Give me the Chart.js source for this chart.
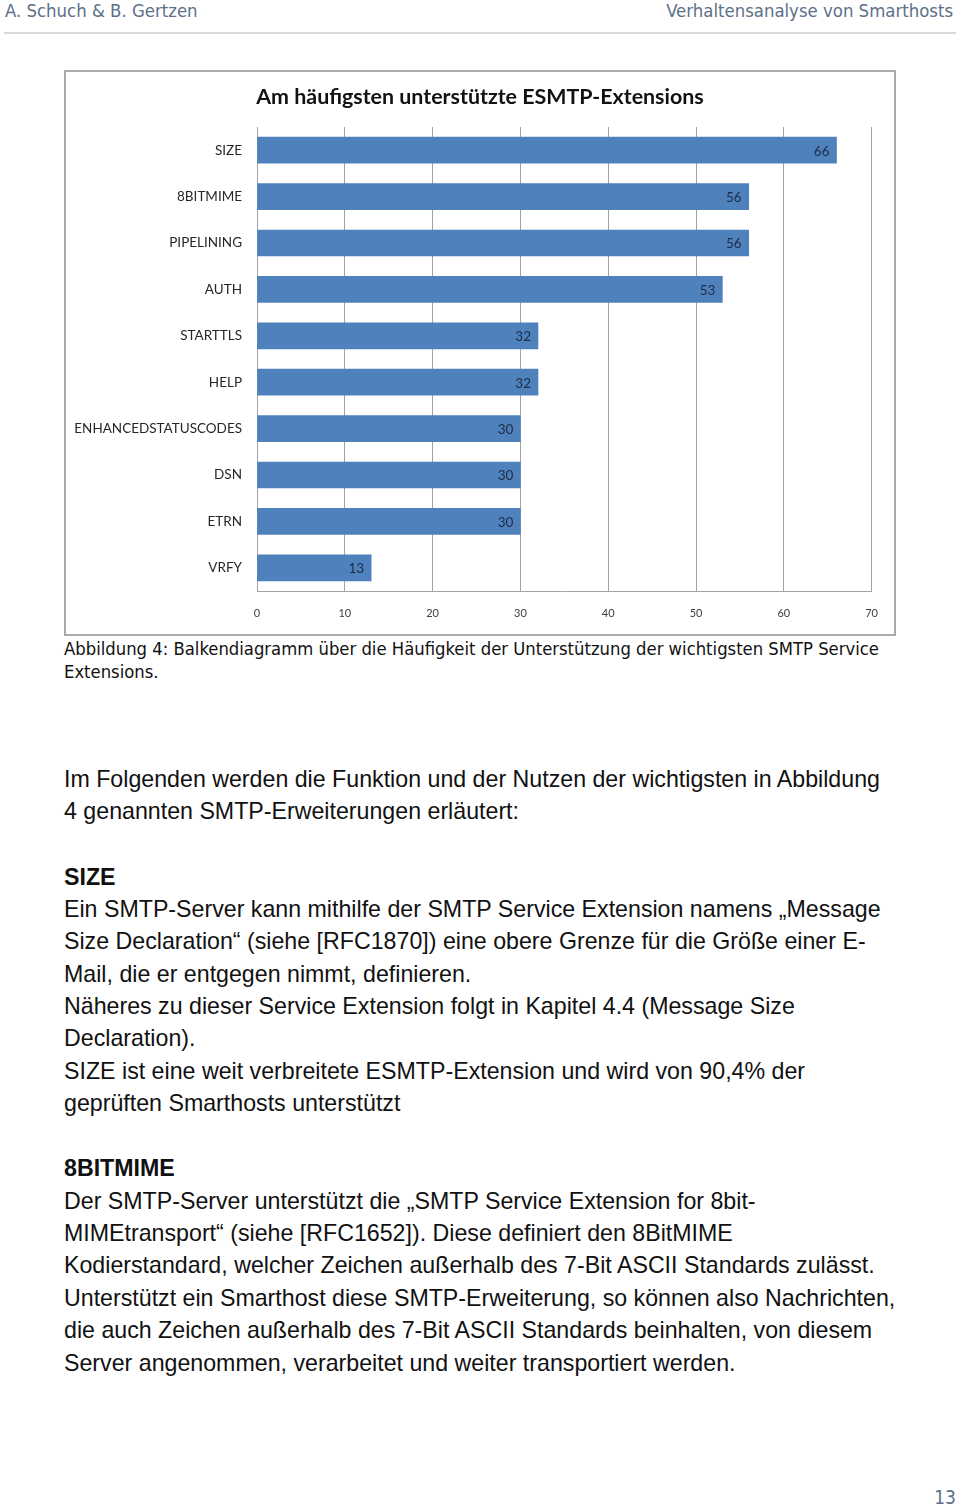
<!DOCTYPE html>
<html>
<head>
<meta charset="utf-8">
<script src="https://cdn.jsdelivr.net/npm/chart.js@4.4.1/dist/chart.umd.min.js"></script>
<style>
  body { margin: 0; width: 960px; height: 1508px; background: #fff; position: relative; overflow: hidden; }
  .hdr { position: absolute; top: 0; font-family: "DejaVu Sans Condensed", "DejaVu Sans"; font-size: 18.4px; color: #5c7089; line-height: 22px; }
  .rule { position: absolute; left: 4px; top: 32px; width: 952px; height: 2px; background: #d5dadd; }
  #box { position: absolute; left: 64px; top: 70px; width: 828px; height: 562px; border: 2px solid #ababab; }
  #title { position: absolute; left: 0; top: 11px; width: 828px; text-align: center; font-family: Lato, "Open Sans", sans-serif; font-weight: bold; font-size: 21.4px; line-height: 26px; color: #111; }
  #chart { position: absolute; left: 0; top: 0; }
  .cap { position: absolute; left: 64px; font-family: "DejaVu Sans Condensed", "DejaVu Sans"; font-size: 18.3px; color: #111; line-height: 22px; white-space: nowrap; }
  .ln { position: absolute; left: 64px; font-family: "Liberation Sans", Arial, sans-serif; font-size: 23.2px; color: #111; line-height: 32px; white-space: nowrap; }
  .b { font-weight: bold; }
  .pg { position: absolute; right: 4px; top: 1486px; font-family: "DejaVu Sans Condensed", "DejaVu Sans"; font-size: 19px; color: #5c7089; }
</style>
</head>
<body>
<div class="hdr" style="left:5px">A. Schuch &amp; B. Gertzen</div>
<div class="hdr" style="right:7px">Verhaltensanalyse von Smarthosts</div>
<div class="rule"></div>

<div id="box">
  <canvas id="chart" width="828" height="562"></canvas>
  <div id="title">Am häufigsten unterstützte ESMTP-Extensions</div>
</div>

<div class="cap" style="top:638px">Abbildung 4: Balkendiagramm über die Häufigkeit der Unterstützung der wichtigsten SMTP Service</div>
<div class="cap" style="top:661px">Extensions.</div>

<div class="ln" style="top:763px">Im Folgenden werden die Funktion und der Nutzen der wichtigsten in Abbildung</div>
<div class="ln" style="top:795px">4 genannten SMTP-Erweiterungen erläutert:</div>
<div class="ln b" style="top:861px">SIZE</div>
<div class="ln" style="top:893px">Ein SMTP-Server kann mithilfe der SMTP Service Extension namens „Message</div>
<div class="ln" style="top:925px">Size Declaration“ (siehe [RFC1870]) eine obere Grenze für die Größe einer E-</div>
<div class="ln" style="top:958px">Mail, die er entgegen nimmt, definieren.</div>
<div class="ln" style="top:990px">Näheres zu dieser Service Extension folgt in Kapitel 4.4 (Message Size</div>
<div class="ln" style="top:1022px">Declaration).</div>
<div class="ln" style="top:1055px">SIZE ist eine weit verbreitete ESMTP-Extension und wird von 90,4% der</div>
<div class="ln" style="top:1087px">geprüften Smarthosts unterstützt</div>
<div class="ln b" style="top:1152px">8BITMIME</div>
<div class="ln" style="top:1185px">Der SMTP-Server unterstützt die „SMTP Service Extension for 8bit-</div>
<div class="ln" style="top:1217px">MIMEtransport“ (siehe [RFC1652]). Diese definiert den 8BitMIME</div>
<div class="ln" style="top:1249px">Kodierstandard, welcher Zeichen außerhalb des 7-Bit ASCII Standards zulässt.</div>
<div class="ln" style="top:1282px">Unterstützt ein Smarthost diese SMTP-Erweiterung, so können also Nachrichten,</div>
<div class="ln" style="top:1314px">die auch Zeichen außerhalb des 7-Bit ASCII Standards beinhalten, von diesem</div>
<div class="ln" style="top:1347px">Server angenommen, verarbeitet und weiter transportiert werden.</div>

<div class="pg">13</div>

<script>
// Extensions and how many smarthosts support them
const extensions = ["SIZE", "8BITMIME", "PIPELINING", "AUTH", "STARTTLS", "HELP",
  "ENHANCEDSTATUSCODES", "DSN", "ETRN", "VRFY"];
const supportCounts = [66, 56, 56, 53, 32, 32, 30, 30, 30, 13];
const xTicks = [0, 10, 20, 30, 40, 50, 60, 70];

const chartFont = "Lato, 'Open Sans', sans-serif";

// value labels inside the end of each bar
const barLabels = {
  id: "barLabels",
  afterDatasetsDraw(chart) {
    const ctx = chart.ctx;
    const meta = chart.getDatasetMeta(0);
    ctx.save();
    ctx.font = "13.5px " + chartFont;
    ctx.fillStyle = "#1d2b48";
    ctx.textAlign = "right";
    ctx.textBaseline = "middle";
    meta.data.forEach((bar, i) => {
      ctx.fillText(String(supportCounts[i]), bar.x - 7, bar.y + 1);
    });
    ctx.restore();
  },
};

new Chart(document.getElementById("chart"), {
  type: "bar",
  data: {
    labels: extensions,
    datasets: [{
      data: supportCounts,
      backgroundColor: "#4f81bd",
      barThickness: 26,
    }],
  },
  options: {
    indexAxis: "y",
    responsive: false,
    animation: false,
    // title is an html line above, so leave room at the top
    layout: { padding: { left: 0, right: 21, top: 55, bottom: 0 } },
    plugins: {
      legend: { display: false },
      tooltip: { enabled: false },
      title: { display: false },
    },
    scales: {
      x: {
        min: 0,
        max: 70,
        afterBuildTicks: (scale) => { scale.ticks = xTicks.map((v) => ({ value: v })); },
        afterFit: (scale) => { scale.height = 43; },
        grid: { color: "#a3a3a3", lineWidth: 1, drawTicks: false },
        border: { display: true, color: "#a3a3a3" },
        ticks: { color: "#404040", font: { family: chartFont, size: 11 }, padding: 16 },
      },
      y: {
        afterFit: (scale) => { scale.width = 191; },
        grid: { display: false, drawTicks: false },
        border: { display: true, color: "#a3a3a3" },
        ticks: { color: "#262626", font: { family: chartFont, size: 13.5 }, padding: 15 },
      },
    },
  },
  plugins: [barLabels],
});
</script>
</body>
</html>
